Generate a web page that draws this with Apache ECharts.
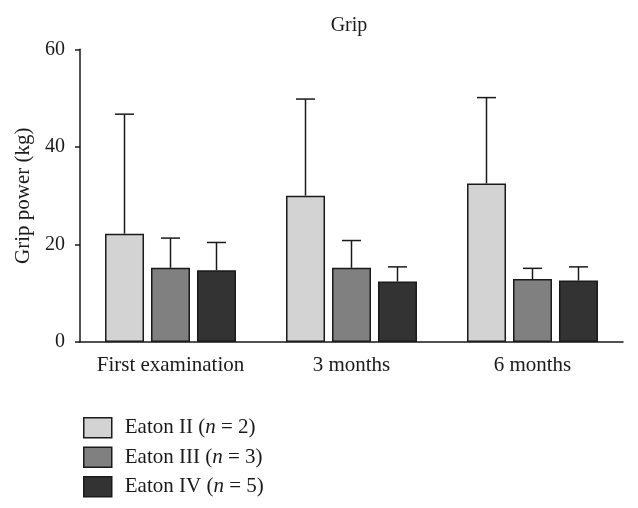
<!DOCTYPE html>
<html><head><meta charset="utf-8">
<script src="https://cdn.jsdelivr.net/npm/echarts@6/dist/echarts.min.js"></script>
<style>html,body{margin:0;padding:0;background:#fff}#c{width:638px;height:508px}</style>
</head><body><div id="c"></div>
<script>
const categories = ['First examination', '3 months', '6 months'];
const seriesNames = ['Eaton II', 'Eaton III', 'Eaton IV'];
const seriesN = [2, 3, 5];
const eatonII = [22.2, 30.0, 32.5];
const eatonIII = [15.2, 15.2, 12.9];
const eatonIV = [14.7, 12.4, 12.6];
const eatonIIErr = [46.7, 49.8, 50.1];
const eatonIIIErr = [21.3, 20.8, 15.1];
const eatonIVErr = [20.4, 15.4, 15.4];
const yTicks = [0, 20, 40, 60];

const values = [eatonII, eatonIII, eatonIV];
const errs = [eatonIIErr, eatonIIIErr, eatonIVErr];
const colors = ['#d3d3d3', '#808080', '#333333'];
const FONT = 'Liberation Serif';
const BAR_W = 39, BAR_GAP = 7;

const series = [];
values.forEach((v, i) => {
  series.push({
    name: seriesNames[i] + ' (n = ' + seriesN[i] + ')',
    type: 'bar',
    data: v,
    barWidth: BAR_W,
    barGap: (BAR_GAP / BAR_W * 100).toFixed(1) + '%',
    itemStyle: { color: colors[i], borderColor: '#1a1a1a', borderWidth: 1.5 },
    emphasis: { disabled: true },
    z: 3
  });
});
values.forEach((v, i) => {
  const off = (i - 1) * (BAR_W + BAR_GAP);
  series.push({
    type: 'custom',
    data: v.map((val, k) => [k, val, errs[i][k]]),
    z: 2,
    silent: true,
    renderItem: function (params, api) {
      const b = api.coord([api.value(0), api.value(1)]);
      const t = api.coord([api.value(0), api.value(2)]);
      const x = b[0] + off;
      return {
        type: 'group',
        children: [
          { type: 'line', shape: { x1: x, y1: b[1], x2: x, y2: t[1] }, style: { stroke: '#1a1a1a', lineWidth: 1.5 } },
          { type: 'line', shape: { x1: x - 9.5, y1: t[1], x2: x + 9.5, y2: t[1] }, style: { stroke: '#1a1a1a', lineWidth: 1.5 } }
        ]
      };
    }
  });
});

const chart = echarts.init(document.getElementById('c'), null, { renderer: 'canvas' });
chart.setOption({
  animation: false,
  backgroundColor: '#fff',
  title: {
    text: 'Grip', left: 344, top: 11, textAlign: 'center',
    textStyle: { fontFamily: FONT, fontSize: 20, fontWeight: 'normal', color: '#1a1a1a' }
  },
  grid: { left: 80, right: 15, top: 49.3, bottom: 166 },
  legend: {
    orient: 'vertical', left: 83, top: 417, padding: 0,
    itemWidth: 28, itemHeight: 20, itemGap: 8, icon: 'rect',
    itemStyle: { borderColor: '#1a1a1a', borderWidth: 1.5 },
    data: series.filter(s => s.type === 'bar').map(s => s.name),
    formatter: function (name) {
      const m = name.match(/^(.*) \(n = (\d+)\)$/);
      return m[1] + ' ({i|n} = ' + m[2] + ')';
    },
    textStyle: {
      fontFamily: FONT, fontSize: 21, color: '#1a1a1a', padding: [0, 0, 0, 8],
      rich: { i: { fontFamily: FONT, fontSize: 21, fontStyle: 'italic', color: '#1a1a1a' } }
    }
  },
  xAxis: {
    type: 'category', data: categories,
    axisLine: { lineStyle: { color: '#1a1a1a', width: 1.5 } },
    axisTick: { alignWithLabel: true, length: 5, lineStyle: { color: '#1a1a1a', width: 1.5 } },
    axisLabel: { fontFamily: FONT, fontSize: 21, color: '#1a1a1a', margin: 13, interval: 0 }
  },
  yAxis: {
    type: 'value', min: yTicks[0], max: yTicks[yTicks.length - 1], interval: 20,
    name: 'Grip power (kg)', nameLocation: 'middle', nameGap: 45,
    nameTextStyle: { fontFamily: FONT, fontSize: 21, color: '#1a1a1a' },
    axisLine: { show: true, lineStyle: { color: '#1a1a1a', width: 1.5 } },
    axisTick: { show: true, length: 5, lineStyle: { color: '#1a1a1a', width: 1.5 } },
    axisLabel: { fontFamily: FONT, fontSize: 20, color: '#1a1a1a', margin: 15 },
    splitLine: { show: false }
  },
  series: series
});
</script></body></html>
